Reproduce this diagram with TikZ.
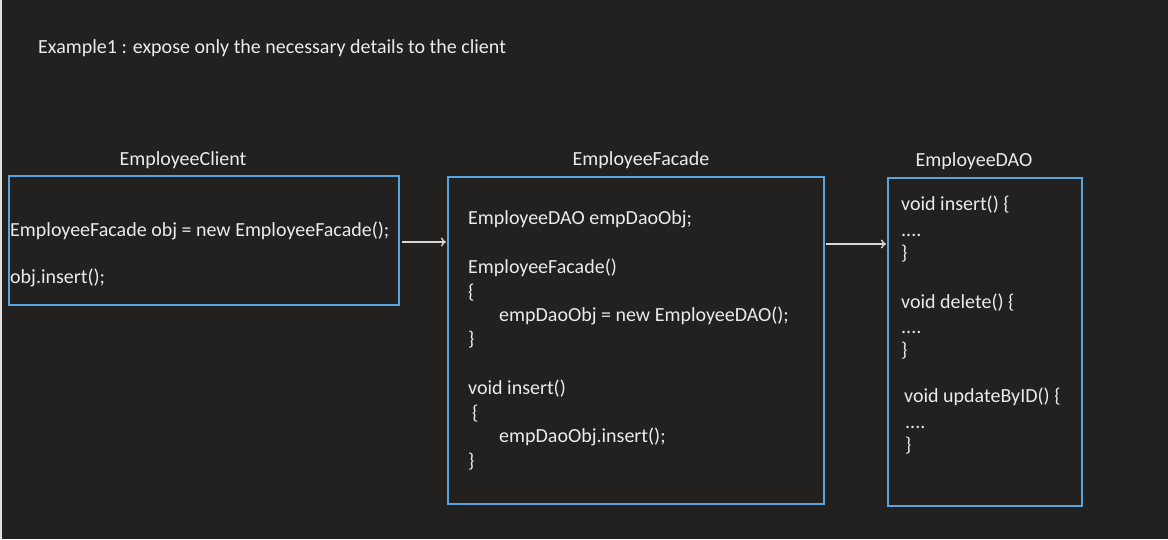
\documentclass[tikz,border=0pt]{standalone}
\usepackage{fontspec}
\setmainfont{Carlito}
\usetikzlibrary{arrows.meta,calc}
\definecolor{bg}{RGB}{34,33,32}
\definecolor{boxblue}{RGB}{88,164,222}
\definecolor{txt}{RGB}{235,235,235}
\definecolor{arrc}{RGB}{215,215,215}
\tikzset{
  box/.style={draw=boxblue, line width=1.8pt, rectangle, anchor=north west, inner sep=0pt},
  code/.style={text=txt, anchor=base west, inner sep=0pt, font=\fontsize{20}{22}\selectfont},
  ttl/.style={text=txt, anchor=base, inner sep=0pt, font=\fontsize{20}{22}\selectfont},
  arr/.style={draw=arrc, line width=1.4pt, -{To[length=5pt,width=9pt]}},
}
\begin{document}
\begin{tikzpicture}[x=1pt,y=-1pt]
\fill[bg] (0,0) rectangle (1168,539);
\useasboundingbox (0,0) rectangle (1168,539);
\draw[draw=arrc!80, line width=1.5pt] (1,0) -- (1,539);
% title
\node[code] (title) at (38,53) {Example1 : expose only the necessary details to the client};
% boxes
\node[box, minimum width=390pt, minimum height=129pt] (client) at (8,175) {};
\node[box, minimum width=376pt, minimum height=327pt] (facade) at (447,176) {};
\node[box, minimum width=194pt, minimum height=328pt] (dao) at (887,177) {};
% labels
\node[ttl] (lclient) at (183,165) {EmployeeClient};
\node[ttl] (lfacade) at (641,165) {EmployeeFacade};
\node[ttl] (ldao) at (974,166) {EmployeeDAO};
% client code
\node[code] (c1) at (10,236) {EmployeeFacade obj = new EmployeeFacade();};
\node[code] (c2) at (10,283) {obj.insert();};
% facade code
\node[code] (f1) at (468,224) {EmployeeDAO empDaoObj;};
\node[code] (f2) at (468,273) {EmployeeFacade()};
\node[code] (f3) at (468,298) {\{};
\node[code] (f4) at (499,321) {empDaoObj = new EmployeeDAO();};
\node[code] (f5) at (468,345) {\}};
\node[code] (f6) at (468,394) {void insert()};
\node[code] (f7) at (472,419) {\{};
\node[code] (f8) at (499,442) {empDaoObj.insert();};
\node[code] (f9) at (468,467) {\}};
% dao code
\node[code] (d1) at (901,210) {void insert() \{};
\node[code] (d2) at (901,236) {....};
\node[code] (d3) at (901,259) {\}};
\node[code] (d4) at (901,308) {void delete() \{};
\node[code] (d5) at (901,333) {....};
\node[code] (d6) at (901,356) {\}};
\node[code] (d7) at (904,402) {void updateByID() \{};
\node[code] (d8) at (905,428) {....};
\node[code] (d9) at (905,451) {\}};
% connectors
\draw[arr] ($(client.north east)+(2,67)$) -- ($(facade.north west)+(-1,66)$);
\draw[arr] ($(facade.north east)+(1,68)$) -- ($(dao.north west)+(-1,67)$);
\end{tikzpicture}
\end{document}
